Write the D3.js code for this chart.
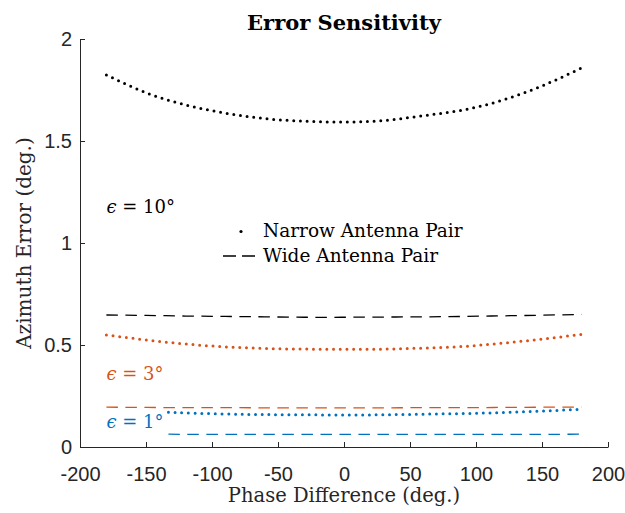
<!DOCTYPE html>
<html>
<head>
<meta charset="utf-8">
<script src="https://cdn.jsdelivr.net/npm/d3@7"></script>
<style>
  body { margin: 0; background: #fff; }
  svg { display: block; }
</style>
</head>
<body>
<script>
// phase difference samples (deg.)
const phase = [-180, -150, -120, -90, -60, -30, 0, 30, 60, 90, 120, 150, 180];
const phaseShort = [-133, -120, -90, -60, -30, 0, 30, 60, 90, 120, 150, 180];

// azimuth error (deg.)
const narrow10 = [1.824, 1.737, 1.677, 1.637, 1.610, 1.597, 1.593, 1.600, 1.624, 1.652, 1.700, 1.770, 1.858];
const wide10 = [0.647, 0.645, 0.642, 0.640, 0.638, 0.636, 0.636, 0.637, 0.638, 0.640, 0.643, 0.646, 0.650];
const narrow3 = [0.549, 0.525, 0.505, 0.491, 0.483, 0.480, 0.479, 0.480, 0.485, 0.493, 0.509, 0.529, 0.552];
const wide3 = [0.195, 0.194, 0.193, 0.193, 0.192, 0.192, 0.192, 0.192, 0.193, 0.193, 0.194, 0.195, 0.196];
const narrow1 = [0.170, 0.167, 0.162, 0.159, 0.158, 0.157, 0.158, 0.161, 0.164, 0.169, 0.176, 0.185];
const wide1 = [0.063, 0.062, 0.062, 0.062, 0.062, 0.062, 0.062, 0.062, 0.062, 0.062, 0.062, 0.063];

const xTicks = [-200, -150, -100, -50, 0, 50, 100, 150, 200];
const yTicks = [0, 0.5, 1, 1.5, 2];

const epsValues = ["10", "3", "1"];
const epsLabelX = [-180, -180, -180];
const epsLabelY = [1.145, 0.328, 0.091];

const legendLabels = ["Narrow Antenna Pair", "Wide Antenna Pair"];

const width = 625;
const height = 513;
const margin = { top: 39, right: 17, bottom: 66, left: 80 };

const black = "#000000", orange = "#D95319", blue = "#0072BD";
const axisColor = "#262626";
const serif = "'DejaVu Serif', serif";
const sans = "'Liberation Sans', Arial, sans-serif";

const series = [
  { x: phase, y: narrow10, color: black, dotted: true },
  { x: phase, y: wide10, color: black, dotted: false },
  { x: phase, y: narrow3, color: orange, dotted: true },
  { x: phase, y: wide3, color: orange, dotted: false },
  { x: phaseShort, y: narrow1, color: blue, dotted: true },
  { x: phaseShort, y: wide1, color: blue, dotted: false }
];
const epsColors = [black, orange, blue];

const x = d3.scaleLinear().domain([-200, 200]).range([margin.left, width - margin.right]);
const y = d3.scaleLinear().domain([0, 2]).range([height - margin.bottom, margin.top]);

const svg = d3.select("body").append("svg")
    .attr("width", width)
    .attr("height", height)
    .attr("viewBox", [0, 0, width, height]);

// axes (MATLAB style, box off, ticks inward)
const xAxis = svg.append("g")
    .attr("transform", `translate(0,${y(0)})`)
    .call(d3.axisBottom(x).tickValues(xTicks).tickSizeInner(-5).tickSizeOuter(0).tickPadding(20).tickFormat(d3.format("d")));
const yAxis = svg.append("g")
    .attr("transform", `translate(${x(-200)},0)`)
    .call(d3.axisLeft(y).tickValues(yTicks).tickSizeInner(-5).tickSizeOuter(0).tickPadding(8).tickFormat(d => String(d)));

[xAxis, yAxis].forEach(g => {
  g.select(".domain").attr("stroke", axisColor).attr("stroke-width", 1);
  g.selectAll(".tick line").attr("stroke", axisColor).attr("stroke-width", 1);
  g.selectAll(".tick text")
      .attr("fill", axisColor)
      .style("font-family", sans)
      .style("font-size", "20px");
});
xAxis.selectAll(".tick text").text(d => d < 0 ? "-" + Math.abs(d) : d);

// lines
const line = d3.line()
    .x(d => x(d[0]))
    .y(d => y(d[1]))
    .curve(d3.curveNatural);

svg.append("g")
  .selectAll("path")
  .data(series)
  .join("path")
    .attr("d", s => line(s.x.map((v, i) => [v, s.y[i]])))
    .attr("fill", "none")
    .attr("stroke", s => s.color)
    .attr("stroke-width", s => s.dotted ? 3 : 1.3)
    .attr("stroke-linecap", s => s.dotted ? "round" : "butt")
    .attr("stroke-dasharray", s => s.dotted ? "0,6.7" : "11.5,7.5");

// epsilon annotations
const eps = svg.append("g")
    .style("font-family", serif)
    .style("font-size", "18px")
  .selectAll("text")
  .data(epsValues)
  .join("text")
    .attr("x", (d, i) => x(epsLabelX[i]))
    .attr("y", (d, i) => y(epsLabelY[i]))
    .attr("fill", (d, i) => epsColors[i]);
eps.append("tspan").style("font-style", "italic").text("\u03F5");
eps.append("tspan").text(d => ` = ${d}\u00B0`);

// legend
const legend = svg.append("g").style("font-family", serif).style("font-size", "18.5px");
legend.append("circle").attr("cx", 241).attr("cy", 231.5).attr("r", 1.6).attr("fill", black);
legend.append("line")
    .attr("x1", 223).attr("x2", 255).attr("y1", 256).attr("y2", 256)
    .attr("stroke", black).attr("stroke-width", 1.3)
    .attr("stroke-dasharray", "13,6");
legend.selectAll("text")
  .data(legendLabels)
  .join("text")
    .attr("x", 263)
    .attr("y", (d, i) => 236.5 + i * 25)
    .attr("fill", black)
    .text(d => d);

// title and axis labels
svg.append("text")
    .attr("x", (x(-200) + x(200)) / 2)
    .attr("y", 30)
    .attr("text-anchor", "middle")
    .style("font-family", serif)
    .style("font-size", "21px")
    .style("font-weight", "bold")
    .text("Error Sensitivity");

svg.append("text")
    .attr("x", (x(-200) + x(200)) / 2)
    .attr("y", 502)
    .attr("text-anchor", "middle")
    .attr("fill", axisColor)
    .style("font-family", serif)
    .style("font-size", "19.5px")
    .text("Phase Difference (deg.)");

svg.append("text")
    .attr("transform", `translate(31,${(y(0) + y(2)) / 2}) rotate(-90)`)
    .attr("text-anchor", "middle")
    .attr("fill", axisColor)
    .style("font-family", serif)
    .style("font-size", "20px")
    .text("Azimuth Error (deg.)");
</script>
</body>
</html>
